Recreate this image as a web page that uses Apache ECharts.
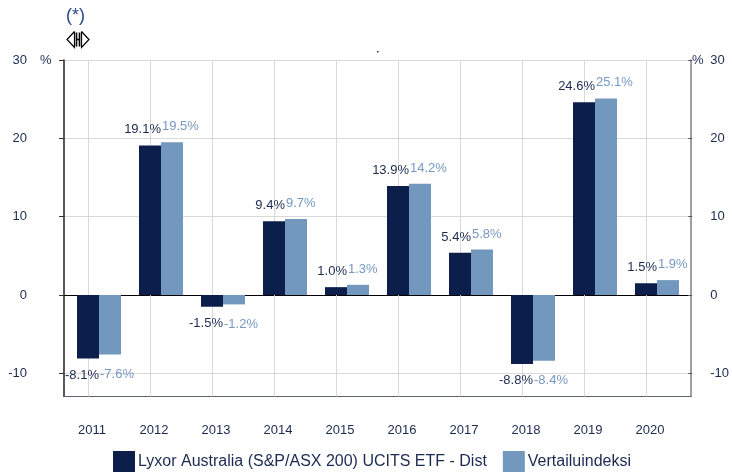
<!DOCTYPE html>
<html>
<head>
<meta charset="utf-8">
<script src="https://cdn.jsdelivr.net/npm/echarts@6/dist/echarts.min.js"></script>
<style>
html,body{margin:0;padding:0;background:#fff;}
#chart{width:732px;height:472px;}
</style>
</head>
<body>
<div id="chart"></div>
<script>
const years = ['2011','2012','2013','2014','2015','2016','2017','2018','2019','2020'];
const fundValues = [-8.1, 19.1, -1.5, 9.4, 1.0, 13.9, 5.4, -8.8, 24.6, 1.5];
const indexValues = [-7.6, 19.5, -1.2, 9.7, 1.3, 14.2, 5.8, -8.4, 25.1, 1.9];
const fundName = 'Lyxor Australia (S&P/ASX 200) UCITS ETF - Dist';
const indexName = 'Vertailuindeksi';
const yTicks = {min: -10, max: 30, interval: 10};

const NAVY = '#0b1f4a';
const LIGHT = '#7298be';
const TEXT = '#1a2a50';
const LTEXT = '#7699c2';
const FONT = 'Liberation Sans, Arial, sans-serif';

const pxPerUnit = 313.33 / (yTicks.max - yTicks.min);
const fullHeight = 336.5;
const fullMin = yTicks.max - fullHeight / pxPerUnit;

function labelled(values, isFund) {
  return values.map(v => ({
    value: v,
    label: {
      position: v < 0 ? 'bottom' : 'top',
      distance: v < 0 ? (isFund ? 10 : 13.5) : 9
    }
  }));
}

const chart = echarts.init(document.getElementById('chart'), null, {renderer: 'canvas'});
chart.setOption({
  animation: false,
  backgroundColor: '#fff',
  textStyle: {fontFamily: FONT},
  grid: [
    {left: 68, right: 44, top: 60, height: fullHeight, containLabel: false},
    {left: 64, right: 41, top: 60, height: fullHeight, containLabel: false},
    {left: 64, right: 41, top: 60, height: 313.33, containLabel: false}
  ],
  legend: {
    left: 113, top: 451, padding: 0,
    itemWidth: 22, itemHeight: 21, itemGap: 16,
    icon: 'rect',
    textStyle: {fontSize: 16, color: TEXT, fontFamily: FONT, padding: [0,0,0,-2]},
    data: [fundName, indexName]
  },
  xAxis: [
    {
      gridIndex: 0, type: 'category', data: years,
      axisLine: {show: false}, axisTick: {show: false}, splitLine: {show: false},
      axisLabel: {color: TEXT, fontSize: 13, fontFamily: FONT, margin: 27, padding: [0, 14, 0, 0]}
    },
    {
      gridIndex: 1, type: 'value', min: 0, max: 1, position: 'bottom',
      axisLine: {show: true, onZero: false, lineStyle: {color: '#5c6272', width: 1.2}},
      axisTick: {show: false}, axisLabel: {show: false}, splitLine: {show: false}
    },
    {
      gridIndex: 2, type: 'value', min: 0, max: 1,
      axisLine: {show: true, onZero: true, lineStyle: {color: '#000', width: 1.2}},
      axisTick: {show: false}, axisLabel: {show: false}, splitLine: {show: false}
    }
  ],
  yAxis: [
    {
      gridIndex: 0, type: 'value', min: fullMin, max: yTicks.max,
      axisLine: {show: false}, axisTick: {show: false}, axisLabel: {show: false}, splitLine: {show: false}
    },
    {
      gridIndex: 1, type: 'value', min: fullMin, max: yTicks.max, position: 'left',
      axisLine: {show: true, lineStyle: {color: '#222', width: 1.5}},
      axisTick: {show: false}, axisLabel: {show: false}, splitLine: {show: false}
    },
    {
      gridIndex: 1, type: 'value', min: fullMin, max: yTicks.max, position: 'right',
      axisLine: {show: true, lineStyle: {color: '#808080', width: 1.5}},
      axisTick: {show: false}, axisLabel: {show: false}, splitLine: {show: false}
    },
    {
      gridIndex: 2, type: 'value', min: yTicks.min, max: yTicks.max, interval: yTicks.interval, position: 'left',
      axisLine: {show: false},
      axisTick: {show: true, inside: false, length: 5, lineStyle: {color: '#333'}},
      axisLabel: {color: TEXT, fontSize: 13, fontFamily: FONT, margin: 37},
      splitLine: {show: true, lineStyle: {color: '#d9d9d9', width: 1}}
    },
    {
      gridIndex: 2, type: 'value', min: yTicks.min, max: yTicks.max, interval: yTicks.interval, position: 'right',
      axisLine: {show: false},
      axisTick: {show: true, inside: false, length: 4, lineStyle: {color: '#556'}},
      axisLabel: {color: TEXT, fontSize: 13, fontFamily: FONT, margin: 22},
      splitLine: {show: false}
    }
  ],
  series: [
    {
      name: fundName, type: 'bar', xAxisIndex: 0, yAxisIndex: 0,
      data: labelled(fundValues, true),
      barWidth: 22, barGap: '0%',
      itemStyle: {color: NAVY},
      label: {
        show: true, align: 'right', offset: [11, 0],
        color: TEXT, fontSize: 13, fontFamily: FONT,
        formatter: p => p.value.toFixed(1) + '%'
      },
      markLine: {
        silent: true, symbol: 'none', z: 1,
        label: {show: false},
        lineStyle: {color: '#d9d9d9', width: 1, type: 'solid'},
        data: years.map(y => ({xAxis: y}))
      }
    },
    {
      name: indexName, type: 'bar', xAxisIndex: 0, yAxisIndex: 0,
      data: labelled(indexValues, false),
      barWidth: 22, barGap: '0%',
      itemStyle: {color: LIGHT},
      label: {
        show: true, align: 'left', offset: [-10, 0],
        color: LTEXT, fontSize: 13, fontFamily: FONT,
        formatter: p => p.value.toFixed(1) + '%'
      }
    }
  ],
  graphic: [
    {type: 'text', left: 66, top: 7, style: {text: '(*)', fontSize: 18, fontFamily: FONT, fill: '#2b4a8b'}},
    {type: 'polyline', shape: {points: [[74.5,31.5],[67,39.5],[74.5,47.5],[74.5,31.5]]}, style: {stroke: '#000', fill: 'none', lineWidth: 1.2}},
    {type: 'polyline', shape: {points: [[81.5,31.5],[89,39.5],[81.5,47.5],[81.5,31.5]]}, style: {stroke: '#000', fill: 'none', lineWidth: 1.2}},
    {type: 'line', shape: {x1: 76.5, y1: 32.5, x2: 76.5, y2: 46.5}, style: {stroke: '#000', lineWidth: 1.6}},
    {type: 'line', shape: {x1: 79.5, y1: 32.5, x2: 79.5, y2: 46.5}, style: {stroke: '#000', lineWidth: 1.6}},
    {type: 'line', shape: {x1: 76.5, y1: 39.5, x2: 79.5, y2: 39.5}, style: {stroke: '#000', lineWidth: 1.6}},
    {type: 'rect', shape: {x: 377, y: 51, width: 1.5, height: 1.5}, style: {fill: '#333'}},
    {type: 'text', left: 40, top: 54, style: {text: '%', fontSize: 13, fontFamily: FONT, fill: TEXT}},
    {type: 'text', left: 692, top: 54, style: {text: '%', fontSize: 13, fontFamily: FONT, fill: TEXT}}
  ]
});
</script>
</body>
</html>
